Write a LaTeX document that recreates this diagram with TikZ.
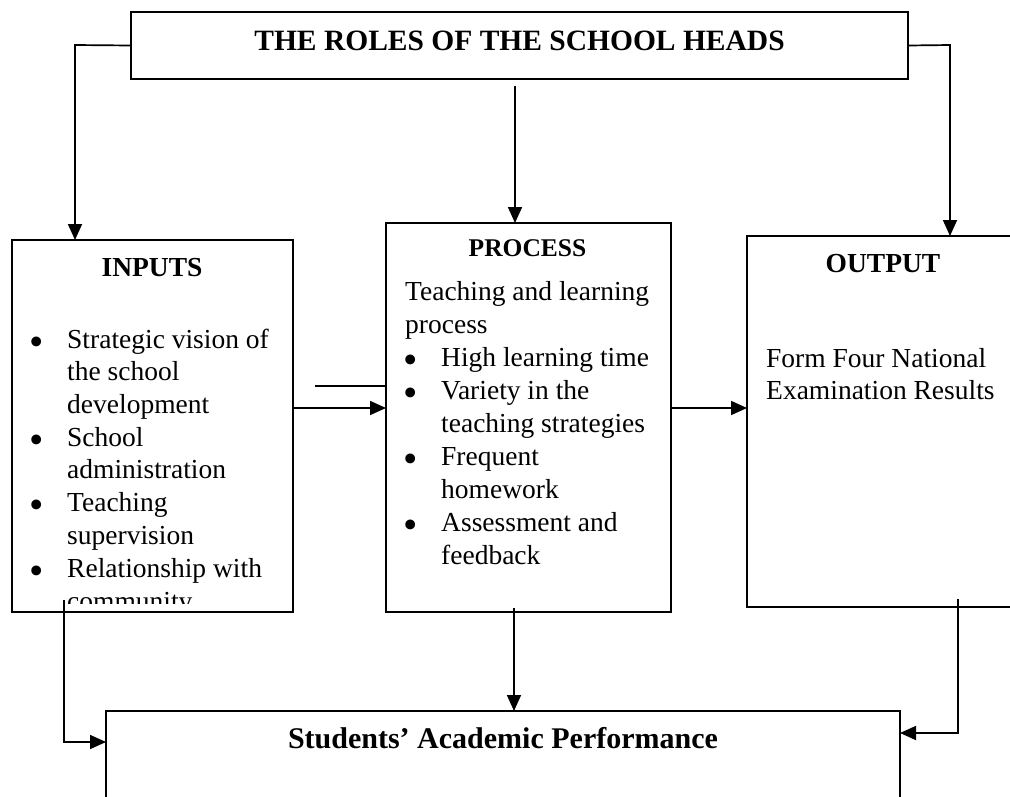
\documentclass[tikz,border=0pt]{standalone}
\usepackage{fontspec}
\setmainfont{Liberation Serif}
\usetikzlibrary{arrows.meta}

\begin{document}
\begin{tikzpicture}[x=1pt,y=-1pt,
  frame/.style={draw, line width=1.7pt, inner sep=0pt, outer sep=0pt},
  link/.style={line width=1.7pt},
  arrowlink/.style={link, -{Triangle[length=16pt,width=14pt]}},
  body/.style={anchor=base west, inner sep=0pt, font=\fontsize{27.5}{33}\selectfont},
  dot/.style={anchor=base, inner sep=0pt, yshift=-7pt, font=\fontsize{41}{41}\selectfont},
  head/.style={anchor=base, inner sep=0pt, font=\fontsize{27.5}{33}\selectfont\bfseries}]

\useasboundingbox (0,0) rectangle (1010,796);
\clip (0,0) rectangle (1010,796);

% boxes
\node[frame, minimum width=777pt, minimum height=67pt]  (top)     at (519.5,45.5) {};
\node[frame, minimum width=281pt, minimum height=372pt] (inputs)  at (152.5,426) {};
\node[frame, minimum width=285pt, minimum height=389pt] (process) at (528.5,417.5) {};
\node[frame, minimum width=273pt, minimum height=371pt] (output)  at (883.5,421.5) {};
\node[frame, minimum width=794pt, minimum height=119pt] (bottom)  at (503,770.5) {};

% titles
\node[head, font=\fontsize{29.5}{34}\selectfont\bfseries] (toptitle) at (519.5,50) {THE ROLES OF THE SCHOOL HEADS};
\node[head] (intitle) at (152,276) {INPUTS};
\node[head, font=\fontsize{25.5}{30}\selectfont\bfseries] (prtitle) at (527.5,256) {PROCESS};
\node[head] (outtitle) at (883,272) {OUTPUT};
\node[head, font=\fontsize{30}{35}\selectfont\bfseries] (bottitle) at (503,748) {Students’ Academic Performance};

% inputs list, cut off by the text area of its box
\begin{scope}
  \clip (12,240) rectangle (293,603);
  \node[dot]  (ib1) at (37,348)   {•};
  \node[body] (it1) at (67,348)   {Strategic vision of};
  \node[body] (it2) at (67,380.7) {the school};
  \node[body] (it3) at (67,413.4) {development};
  \node[dot]  (ib2) at (37,446.1) {•};
  \node[body] (it4) at (67,446.1) {School};
  \node[body] (it5) at (67,478.8) {administration};
  \node[dot]  (ib3) at (37,511.5) {•};
  \node[body] (it6) at (67,511.5) {Teaching};
  \node[body] (it7) at (67,544.2) {supervision};
  \node[dot]  (ib4) at (37,577)   {•};
  \node[body] (it8) at (67,577)   {Relationship with};
  \node[body] (it9) at (67,610)   {community};
\end{scope}

% process list
\node[body] (pt1) at (405,300) {Teaching and learning};
\node[body] (pt2) at (405,333) {process};
\node[dot]  (pb1) at (411,366) {•};
\node[body] (pt3) at (441,366) {High learning time};
\node[dot]  (pb2) at (411,399) {•};
\node[body] (pt4) at (441,399) {Variety in the};
\node[body] (pt5) at (441,432) {teaching strategies};
\node[dot]  (pb3) at (411,465) {•};
\node[body] (pt6) at (441,465) {Frequent};
\node[body] (pt7) at (441,498) {homework};
\node[dot]  (pb4) at (411,531) {•};
\node[body] (pt8) at (441,531) {Assessment and};
\node[body] (pt9) at (441,564) {feedback};

% output text
\node[body] (ot1) at (766,367) {Form Four National};
\node[body] (ot2) at (766,399) {Examination Results};

% connectors from the top box
\coordinate (lk) at (75,45);
\coordinate (rk) at (950,45);
\coordinate (mk) at (515,86);
\draw[arrowlink] (top.west) -- (lk) -- (lk |- inputs.north);
\draw[arrowlink] (top.east) -- (rk) -- (rk |- output.north);
\draw[arrowlink] (mk) -- (mk |- process.north);

% connectors along the middle row
\coordinate (row) at (0,408);
\coordinate (sk) at (315,386);
\draw[link] (sk) -- (sk -| process.west);
\draw[arrowlink] (inputs.east |- row) -- (process.west |- row);
\draw[arrowlink] (process.east |- row) -- (output.west |- row);

% connectors into the bottom box
\coordinate (ia) at (64,600);
\coordinate (ic) at (64,742);
\coordinate (pa) at (514,608);
\coordinate (oa) at (958,599);
\coordinate (oc) at (958,733);
\draw[arrowlink] (ia) -- (ic) -- (ic -| bottom.west);
\draw[arrowlink] (pa) -- (pa |- bottom.north);
\draw[arrowlink] (oa) -- (oc) -- (oc -| bottom.east);

\end{tikzpicture}
\end{document}
